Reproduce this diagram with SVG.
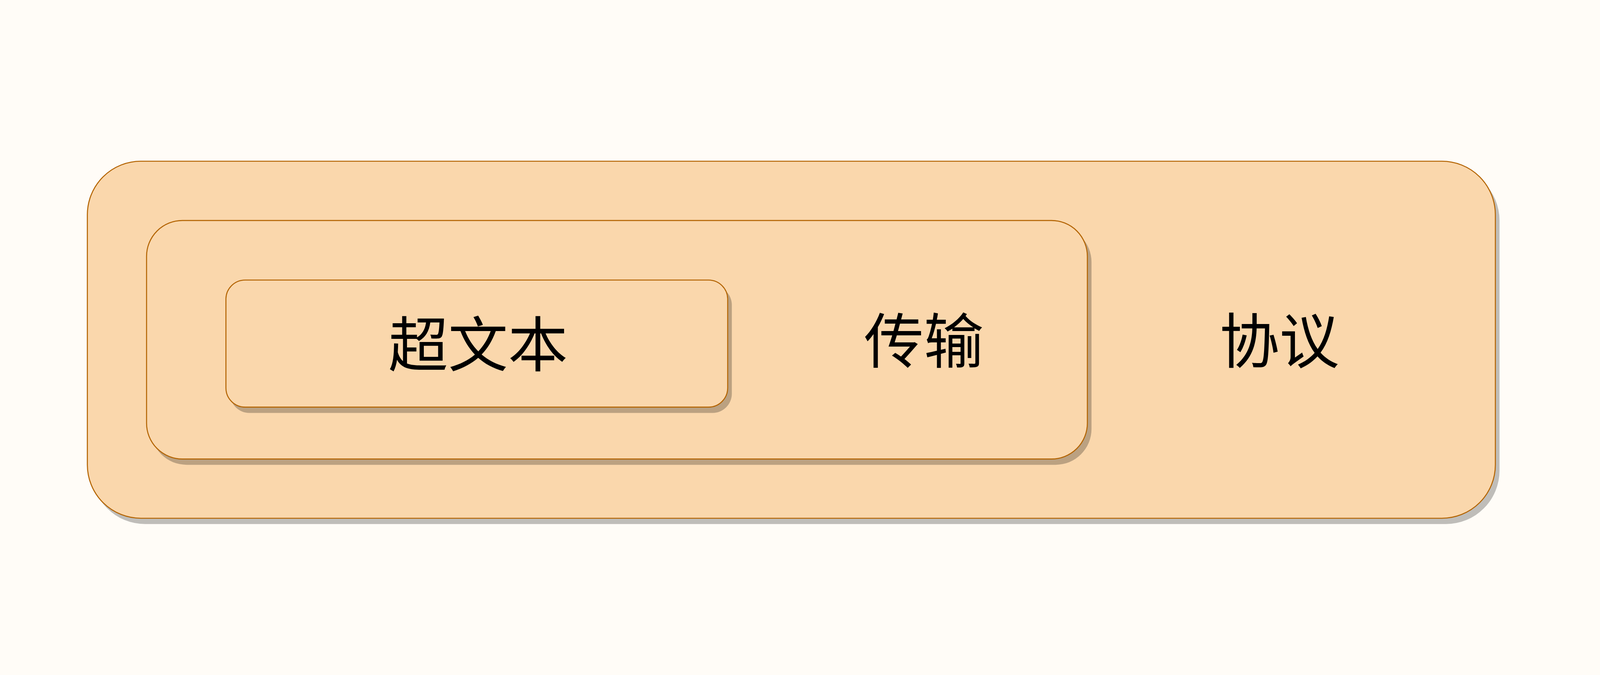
<svg xmlns="http://www.w3.org/2000/svg" width="5000" height="1727" viewBox="0 0 5000 1727">
<style>
svg:root{width:100vw;height:100vh;background:#fffcf7}
.box{fill:#fad7ac;stroke:#b46504;stroke-width:3.2}
.shadow{fill:#000;fill-opacity:0.25;stroke:none}
.lbl{font-family:"Noto Sans CJK SC","Noto Sans",sans-serif;font-size:187px;fill:#000;text-anchor:middle}
</style>
<rect x="0" y="0" width="5000" height="1727" fill="#fffcf7"/>
<g id="node-protocol">
<rect class="shadow" x="286" y="331" width="4400" height="1115" rx="167" ry="167"/>
<rect class="box" x="273" y="313" width="4400" height="1115" rx="167" ry="167"/>
<text class="lbl" x="3998" y="944">协议</text>
</g>
<g id="node-transfer">
<rect class="shadow" x="471" y="516" width="2940" height="745" rx="112" ry="112"/>
<rect class="box" x="458" y="498" width="2940" height="745" rx="112" ry="112"/>
<text class="lbl" x="2887" y="944">传输</text>
</g>
<g id="node-hypertext">
<rect class="shadow" x="719" y="702" width="1568" height="397" rx="60" ry="60"/>
<rect class="box" x="706" y="684" width="1568" height="397" rx="60" ry="60"/>
<text class="lbl" x="1494" y="955">超文本</text>
</g>
<g id="connectors"></g>
</svg>
